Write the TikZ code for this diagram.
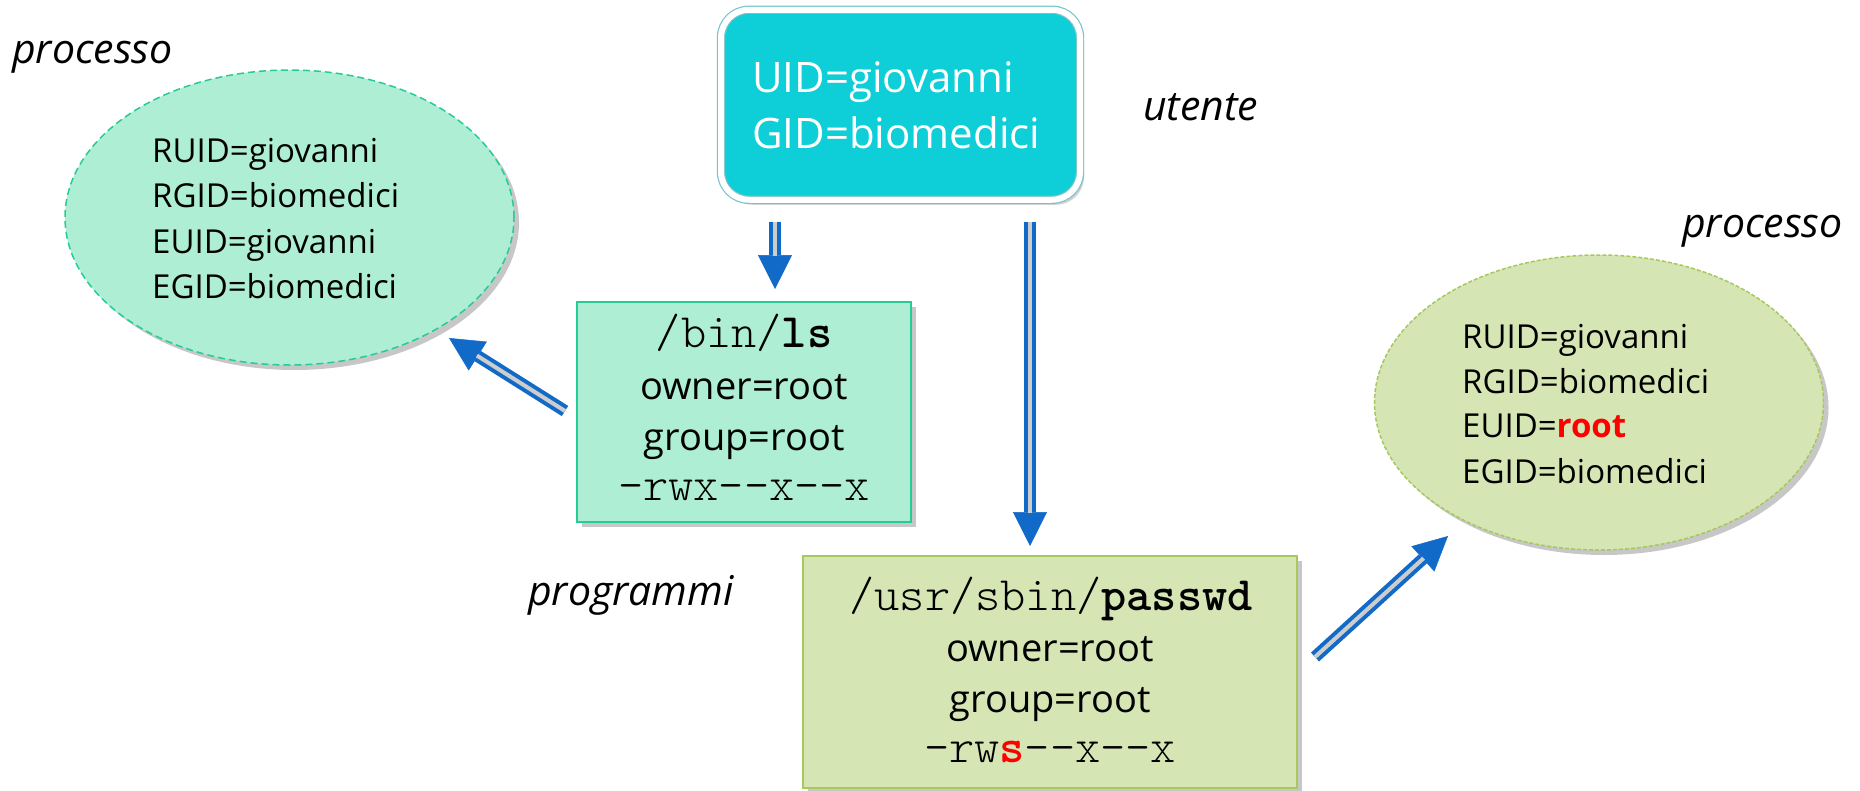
\documentclass[tikz,border=0pt]{standalone}
\usepackage{fontspec}
\setmainfont{Open Sans}
\setmonofont{lmmonolt10-regular.otf}[BoldFont=lmmonolt10-bold.otf]
\usetikzlibrary{shapes.geometric,arrows.meta,shadows,calc}
\definecolor{mint}{RGB}{173,238,212}
\definecolor{mintedge}{RGB}{38,204,152}
\definecolor{olive}{RGB}{214,229,180}
\definecolor{oliveedge}{RGB}{166,200,92}
\definecolor{userteal}{RGB}{14,206,216}
\definecolor{useredge}{RGB}{120,196,204}
\definecolor{arrowblue}{RGB}{18,106,200}
\definecolor{innergray}{RGB}{205,205,205}
\definecolor{myred}{RGB}{255,0,0}
\tikzset{
  softshadow/.style={drop shadow={shadow xshift=5pt, shadow yshift=-5pt, fill=black, opacity=0.22}},
  procell/.style={ellipse, inner sep=0pt, minimum width=449pt, minimum height=295pt, line width=1.5pt, softshadow},
  progbox/.style={rectangle, inner sep=0pt, line width=2pt, softshadow},
  lbl/.style={anchor=base west, inner sep=0pt, font=\fontsize{41}{41}\selectfont\itshape},
  etxt/.style={anchor=base west, inner sep=0pt, font=\fontsize{33}{33}\selectfont},
  utxt/.style={anchor=base west, inner sep=0pt, text=white, font=\fontsize{42}{42}\selectfont},
  btxt/.style={anchor=base, inner sep=0pt, font=\fontsize{38}{38}\selectfont},
  mtxt/.style={anchor=base, inner sep=0pt, font=\ttfamily\fontsize{48}{48}\selectfont},
  dblout/.style={draw=arrowblue, line width=12pt, -{Triangle[length=34pt,width=34pt,line width=0.5pt]}},
  dblin/.style={draw=innergray, line width=4pt, shorten >=33pt},
}
\begin{document}
\begin{tikzpicture}[x=1pt,y=-1pt]
\useasboundingbox (0,0) rectangle (1860,790);

% user box
\node[rectangle, rounded corners=28pt, minimum width=359pt, minimum height=190pt,
      fill=userteal, draw=useredge, double=white, double distance=6pt, line width=1.2pt,
      drop shadow={shadow xshift=4pt, shadow yshift=-5pt, fill=black, opacity=0.18}]
      (user) at (900.5,104.75) {};
\node[utxt] (u1) at (752,92) {UID=giovanni};
\node[utxt] (u2) at (752,148) {GID=biomedici};
\node[lbl] (lutente) at (1143,120) {utente};

% left process
\node[procell, fill=mint, draw=mintedge, dash pattern=on 7pt off 4pt] (pl) at (289.5,217.5) {};
\node[lbl] (lproc1) at (12,63) {processo};
\node[etxt] (pl1) at (152,162) {RUID=giovanni};
\node[etxt] (pl2) at (152,207) {RGID=biomedici};
\node[etxt] (pl3) at (152,253) {EUID=giovanni};
\node[etxt] (pl4) at (152,298) {EGID=biomedici};

% right process
\node[procell, fill=olive, draw=oliveedge, dash pattern=on 4pt off 2pt] (pr) at (1599,402.5) {};
\node[lbl] (lproc2) at (1682,237) {processo};
\node[etxt] (pr1) at (1462,348) {RUID=giovanni};
\node[etxt] (pr2) at (1462,393) {RGID=biomedici};
\node[etxt] (pr3) at (1462,437) {EUID=\textcolor{myred}{\bfseries root}};
\node[etxt] (pr4) at (1462,483) {EGID=biomedici};

% /bin/ls
\node[progbox, fill=mint, draw=mintedge, minimum width=334pt, minimum height=220pt] (ls) at (744,412) {};
\node[mtxt] (ls1) at (744,347) {/bin/\textbf{ls}};
\node[btxt] (ls2) at (744,399) {owner=root};
\node[btxt] (ls3) at (744,450) {group=root};
\node[mtxt] (ls4) at (744,500) {-rwx--x--x};

% /usr/sbin/passwd
\node[progbox, fill=olive, draw=oliveedge, minimum width=494pt, minimum height=232pt] (pw) at (1050,672) {};
\node[mtxt] (pw1) at (1051,610) {/usr/sbin/\textbf{passwd}};
\node[btxt] (pw2) at (1050,661) {owner=root};
\node[btxt] (pw3) at (1050,712) {group=root};
\node[mtxt] (pw4) at (1050,762) {-rw\textcolor{myred}{\textbf{s}}--x--x};
\node[lbl] (lprog) at (528,605) {programmi};

% connectors
\coordinate (plin) at (449,338);
\coordinate (prin) at (1448,536);

\draw[dblout] ([xshift=-125.5pt,yshift=-22pt]user.south) -- ([xshift=31pt,yshift=12pt]ls.north);
\draw[dblin]  ([xshift=-125.5pt,yshift=-22pt]user.south) -- ([xshift=31pt,yshift=12pt]ls.north);

\draw[dblout] ([xshift=129.5pt,yshift=-22pt]user.south) -- ([xshift=-20pt,yshift=9pt]pw.north);
\draw[dblin]  ([xshift=129.5pt,yshift=-22pt]user.south) -- ([xshift=-20pt,yshift=9pt]pw.north);

\draw[dblout] ([xshift=-11pt,yshift=1pt]ls.west) -- (plin);
\draw[dblin]  ([xshift=-11pt,yshift=1pt]ls.west) -- (plin);

\draw[dblout] ([xshift=17pt,yshift=15pt]pw.east) -- (prin);
\draw[dblin]  ([xshift=17pt,yshift=15pt]pw.east) -- (prin);
\end{tikzpicture}
\end{document}
